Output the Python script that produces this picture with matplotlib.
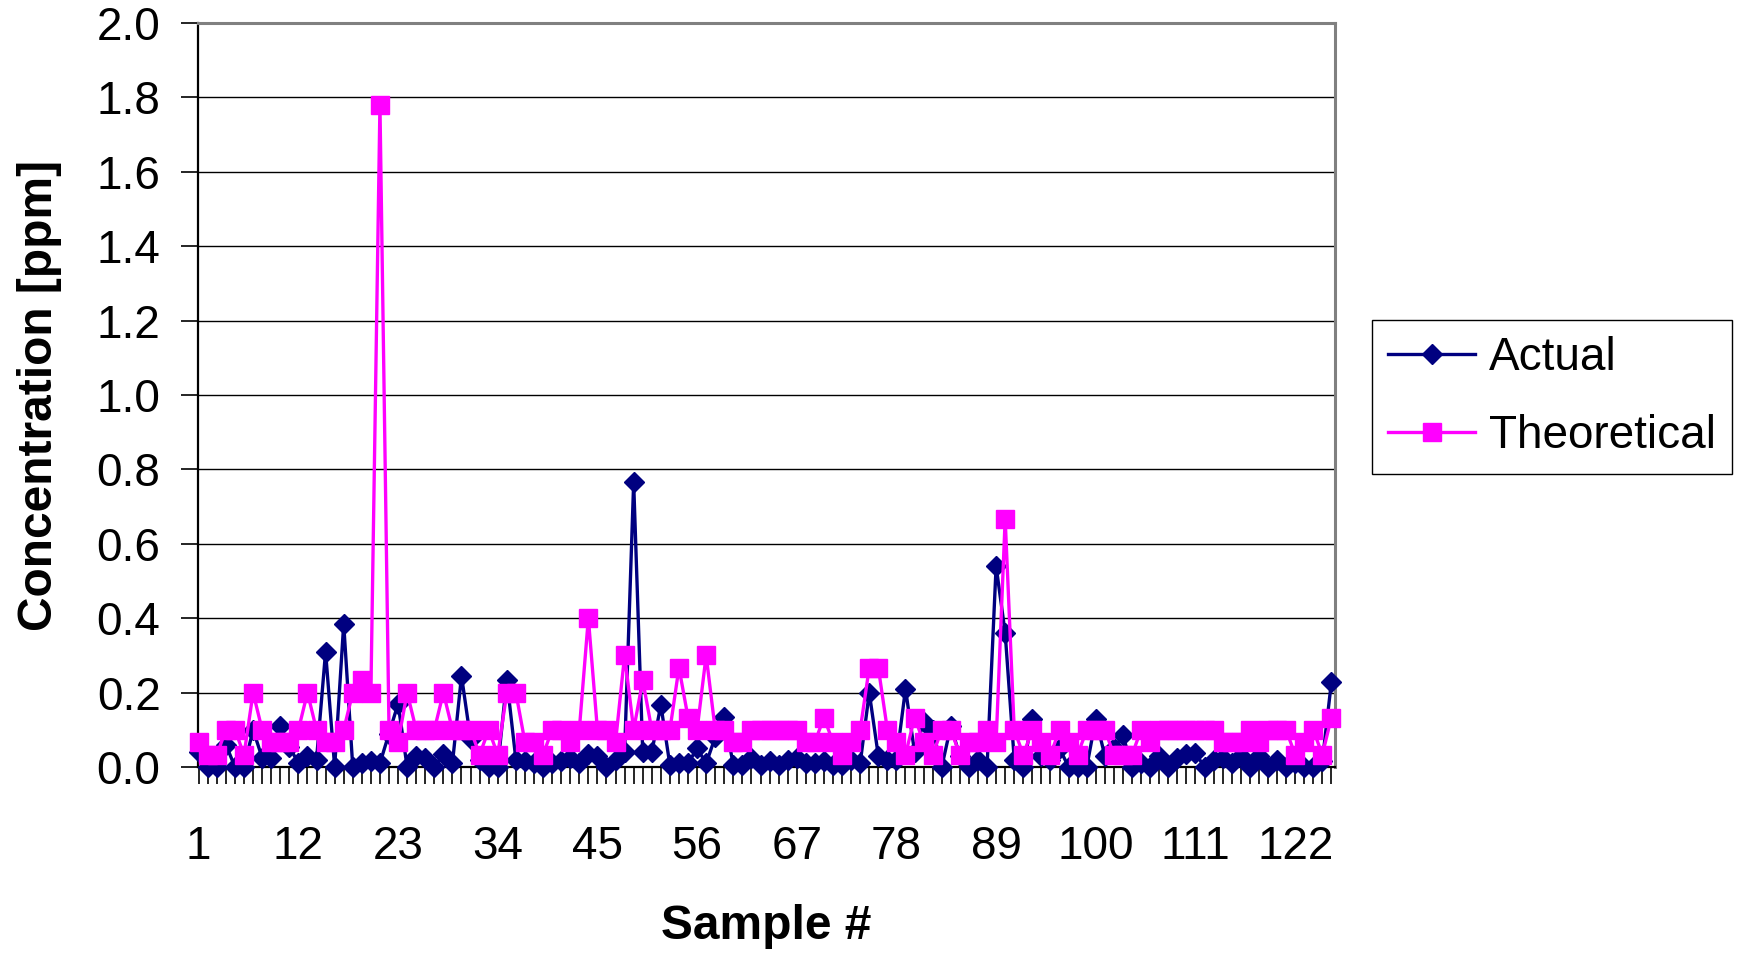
"""Actual vs theoretical concentration per sample (line + marker chart)."""
import matplotlib
matplotlib.use("Agg")
import matplotlib.pyplot as plt  # noqa: E402

plt.rcParams["font.family"] = ["Liberation Sans", "DejaVu Sans"]

NAVY = "#000080"
MAGENTA = "#FF00FF"

# sample numbers (categories) and the two series
sample = list(range(1, 127))
actual = [
    0.04, 0.0, 0.0, 0.06, 0.0, 0.0, 0.1, 0.025, 0.025, 0.11,
    0.055, 0.01, 0.03, 0.02, 0.31, 0.0, 0.385, 0.0, 0.01, 0.015,
    0.01, 0.09, 0.17, 0.0, 0.03, 0.025, 0.0, 0.035, 0.01, 0.245,
    0.075, 0.02, 0.0, 0.0, 0.235, 0.02, 0.015, 0.01, 0.0, 0.01,
    0.015, 0.025, 0.01, 0.035, 0.03, 0.0, 0.02, 0.04, 0.765, 0.04,
    0.04, 0.167, 0.005, 0.01, 0.01, 0.05, 0.01, 0.08, 0.135, 0.005,
    0.005, 0.025, 0.005, 0.015, 0.005, 0.02, 0.025, 0.01, 0.01, 0.015,
    0.005, 0.005, 0.02, 0.01, 0.2, 0.03, 0.02, 0.02, 0.21, 0.04,
    0.12, 0.1, 0.0, 0.11, 0.03, 0.0, 0.02, 0.0, 0.54, 0.36,
    0.02, 0.0, 0.13, 0.03, 0.02, 0.05, 0.0, 0.0, 0.0, 0.13,
    0.03, 0.05, 0.085, 0.0, 0.01, 0.0, 0.03, 0.0, 0.025, 0.035,
    0.037, 0.0, 0.02, 0.025, 0.01, 0.03, 0.0, 0.03, 0.0, 0.02,
    0.0, 0.01, 0.0, 0.0, 0.015, 0.228,
]
theoretical = [
    0.067, 0.033, 0.033, 0.1, 0.1, 0.033, 0.2, 0.1, 0.067, 0.067,
    0.067, 0.1, 0.2, 0.1, 0.067, 0.067, 0.1, 0.2, 0.233, 0.2,
    1.78, 0.1, 0.067, 0.2, 0.1, 0.1, 0.1, 0.2, 0.1, 0.1,
    0.1, 0.033, 0.1, 0.033, 0.2, 0.2, 0.067, 0.067, 0.033, 0.1,
    0.1, 0.067, 0.1, 0.4, 0.1, 0.1, 0.067, 0.3, 0.1, 0.233,
    0.1, 0.1, 0.1, 0.267, 0.133, 0.1, 0.3, 0.1, 0.1, 0.067,
    0.067, 0.1, 0.1, 0.1, 0.1, 0.1, 0.1, 0.067, 0.067, 0.133,
    0.067, 0.033, 0.067, 0.1, 0.267, 0.267, 0.1, 0.067, 0.033, 0.133,
    0.067, 0.033, 0.1, 0.1, 0.033, 0.067, 0.067, 0.1, 0.067, 0.667,
    0.1, 0.033, 0.1, 0.067, 0.033, 0.1, 0.067, 0.033, 0.1, 0.1,
    0.1, 0.033, 0.033, 0.033, 0.1, 0.067, 0.1, 0.1, 0.1, 0.1,
    0.1, 0.1, 0.1, 0.067, 0.067, 0.067, 0.1, 0.067, 0.1, 0.1,
    0.1, 0.033, 0.067, 0.1, 0.033, 0.133,
]
xtick_labels = [1, 12, 23, 34, 45, 56, 67, 78, 89, 100, 111, 122]
yticks = [0.0, 0.2, 0.4, 0.6, 0.8, 1.0, 1.2, 1.4, 1.6, 1.8, 2.0]

FS = 33       # tick + legend text
FS_LAB = 34.5 # bold axis titles

fig = plt.figure(figsize=(17.42, 9.55), dpi=100)
ax = fig.add_axes([198 / 1742, 1 - 767 / 955, 1137 / 1742, 744 / 955])

ax.plot(sample, actual, color=NAVY, lw=2.4, marker="D", ms=10.5, mec=NAVY, mfc=NAVY,
        label="Actual", clip_on=False, zorder=3)
ax.plot(sample, theoretical, color=MAGENTA, lw=2.4, marker="s", ms=13, mec=MAGENTA, mfc=MAGENTA,
        label="Theoretical", clip_on=False, zorder=4)

ax.set_xlim(0.92, 126.4)
ax.set_ylim(0, 2.0)
ax.set_yticks(yticks)
ax.set_yticklabels([f"{v:.1f}" for v in yticks])
ax.set_xticks(sample)
ax.set_xticklabels([str(s) if s in xtick_labels else "" for s in sample])
ax.tick_params(axis="y", direction="out", length=12, width=1.2, labelsize=FS, pad=15)
ax.tick_params(axis="x", direction="out", length=12, width=1.2, labelsize=FS, pad=30)

ax.yaxis.grid(True, color="black", lw=1.0, zorder=0)
ax.set_axisbelow(True)
for side in ("left", "bottom"):
    ax.spines[side].set_color("black")
    ax.spines[side].set_linewidth(1.6)
for side in ("top", "right"):
    ax.spines[side].set_color("#808080")
    ax.spines[side].set_linewidth(2.2)

ax.set_xlabel("Sample #", fontsize=FS_LAB, fontweight="bold")
ax.xaxis.set_label_coords(0.5, -0.214)
ax.xaxis.label.set_va("center")
ax.set_ylabel("Concentration [ppm]", fontsize=FS_LAB, fontweight="bold")
ax.yaxis.set_label_coords(-0.139, 0.5)
ax.yaxis.label.set_va("center")

leg = fig.legend(loc="upper left", bbox_to_anchor=(1372 / 1742, 1 - 320 / 955), fontsize=FS,
                 frameon=True, fancybox=False, edgecolor="black", framealpha=1,
                 handlelength=1.9, handletextpad=0.3, labelspacing=0.75, borderpad=0.35,
                 borderaxespad=0)
leg.get_frame().set_linewidth(1.0)

fig.savefig("out.png", dpi=100)
